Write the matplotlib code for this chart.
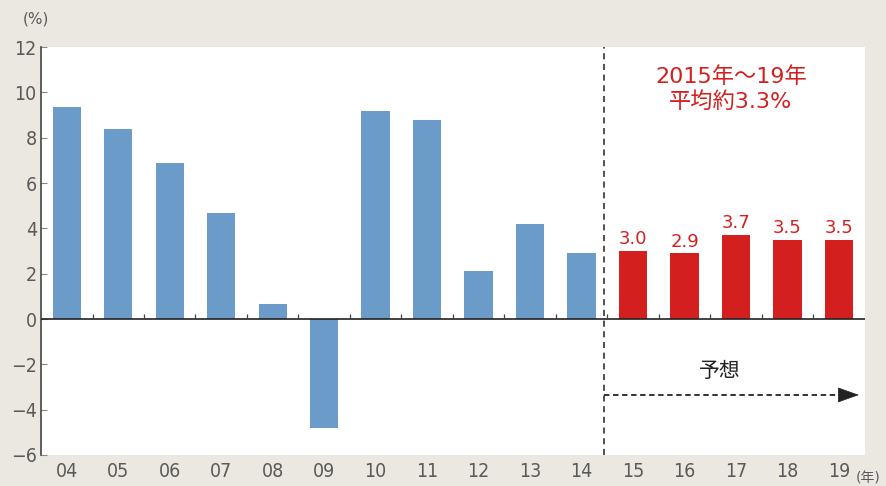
import numpy as np
import matplotlib
matplotlib.use('Agg')
import matplotlib.pyplot as plt

plt.rcParams['font.family'] = ['DejaVu Sans', 'Noto Sans CJK JP']

# 実質GDP成長率 (%)
years = ['04', '05', '06', '07', '08', '09', '10', '11', '12', '13', '14',
         '15', '16', '17', '18', '19']
actual = [9.35, 8.4, 6.9, 4.7, 0.65, -4.8, 9.2, 8.8, 2.1, 4.2, 2.9]
forecast = [3.0, 2.9, 3.7, 3.5, 3.5]
yticks = [-6, -4, -2, 0, 2, 4, 6, 8, 10, 12]

blue = '#6b9bc9'
red = '#d3201f'
gray = '#5a5a5a'
bg = '#ebe8e1'
mix = ['DejaVu Sans', 'Noto Sans CJK JP']

fig = plt.figure(figsize=(8.86, 4.86), dpi=100, facecolor=bg)
ax = fig.add_axes([0.0463, 0.0638, 0.9297, 0.8392])
ax.set_facecolor('white')

x = np.arange(len(years))
n_act = len(actual)
ax.bar(x[:n_act], actual, width=0.55, color=blue, zorder=2)
bars = ax.bar(x[n_act:], forecast, width=0.55, color=red, zorder=2)
for b, v in zip(bars, forecast):
    ax.annotate(f'{v:.1f}', (b.get_x() + b.get_width() / 2, v),
                xytext=(0, 2), textcoords='offset points',
                ha='center', va='bottom', color=red, fontsize=13)

ax.set_xlim(-0.5, len(years) - 0.5)
ax.set_ylim(-6, 12)

# zero line with small ticks between bars
ax.axhline(0, color='#222222', lw=1.2, zorder=3)
ax.vlines(x[:-1] + 0.5, 0, 0.22, color='#444444', lw=0.9, zorder=3)

# boundary between actual and forecast
split = n_act - 0.57
tip = len(years) - 0.56
ax.axvline(split, color='#222222', lw=1.1, ls=(0, (4, 3)), zorder=3)
ax.plot([split, tip - 0.35], [-3.35, -3.35], color='#222222',
        lw=1.3, ls=(0, (3, 2)), zorder=3)
ax.annotate('', xy=(tip, -3.35), xytext=(tip - 0.45, -3.35),
            arrowprops=dict(arrowstyle='-|>,head_length=1.4,head_width=0.5',
                            color='#222222', lw=0.5),
            annotation_clip=False, zorder=4)
ax.text(12.69, -2.3, '予想', ha='center', va='center', fontsize=15,
        color='#222222', family=['Noto Sans CJK JP'])
ax.text(12.9, 10.15, '2015年～19年\n平均約3.3%', ha='center', va='center',
        fontsize=16, color=red, linespacing=1.2, family=mix)

for s in ['top', 'right', 'bottom']:
    ax.spines[s].set_visible(False)
ax.spines['left'].set_color('#444444')
ax.spines['left'].set_linewidth(1.2)

ax.set_yticks(yticks)
ax.set_yticklabels([str(t).replace('-', '−') for t in yticks],
                   fontstretch='condensed')
ax.tick_params(axis='y', direction='in', length=4, color='#888888',
               labelcolor=gray, labelsize=14, pad=3)
ax.set_xticks(x)
ax.set_xticklabels(years, fontstretch='condensed')
ax.tick_params(axis='x', length=0, labelcolor=gray, labelsize=14, pad=5)

fig.text(0.026, 0.952, '(%)', fontsize=11, color=gray)
fig.text(0.966, 0.008, '(年)', fontsize=10, color=gray, family=mix)

fig.savefig('out.png', dpi=100, facecolor=bg)
